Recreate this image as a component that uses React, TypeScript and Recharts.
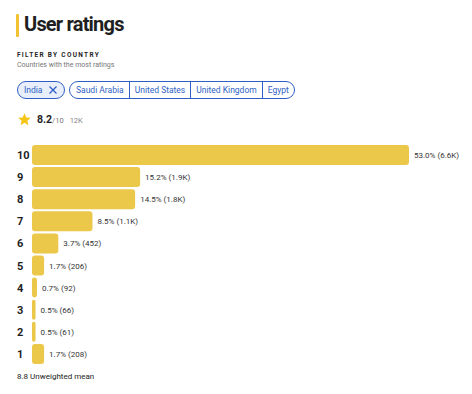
import React from 'react';
import { BarChart, Bar, XAxis, YAxis, LabelList } from 'recharts';

const ratings = ['10', '9', '8', '7', '6', '5', '4', '3', '2', '1'];
const shares = [53.0, 15.2, 14.5, 8.5, 3.7, 1.7, 0.7, 0.5, 0.5, 1.7];
const counts = ['6.6K', '1.9K', '1.8K', '1.1K', '452', '206', '92', '66', '61', '208'];
const countries = ['Saudi Arabia', 'United States', 'United Kingdom', 'Egypt'];

const data = ratings.map((r, i) => ({
  rating: r,
  share: shares[i],
  label: `${shares[i].toFixed(1)}% (${counts[i]})`,
}));

const BLUE = '#2f5fc4';
const FONT = 'Roboto, "Noto Sans", Arial, sans-serif';

const RatingTick = (props: any) => {
  const { y, payload } = props;
  return (
    <text x={17} y={y} dy={4} textAnchor="start" fontSize={11} fontWeight={700} fill="#1f1f1f" fontFamily={FONT}>
      {payload.value}
    </text>
  );
};

const ValueLabel = (props: any) => {
  const { x, y, width, height, value } = props;
  return (
    <text x={x + width + 5} y={y + height / 2} dy={3} fontSize={8} fill="#333" fontFamily={FONT}>
      {value}
    </text>
  );
};

export default function App() {
  return (
    <div style={{ position: 'absolute', left: 0, top: 0, width: 472, height: 394, background: '#fff', fontFamily: FONT, color: '#1f1f1f' }}>
      <div style={{ position: 'absolute', left: 16, top: 14, width: 3, height: 23, background: '#f1c232', borderRadius: 1 }} />
      <div style={{ position: 'absolute', left: 24, top: 12, fontSize: 20, fontWeight: 700, letterSpacing: -0.8 }}>User ratings</div>
      <div style={{ position: 'absolute', left: 17, top: 51, fontSize: 6.5, fontWeight: 700, letterSpacing: 1.3 }}>FILTER BY COUNTRY</div>
      <div style={{ position: 'absolute', left: 17, top: 61, fontSize: 7, color: '#777' }}>Countries with the most ratings</div>

      <div style={{ position: 'absolute', left: 17, top: 81, height: 16, border: `1px solid ${BLUE}`, borderRadius: 9, background: '#e8effb', display: 'flex', alignItems: 'center', padding: '0 6px 0 6px', fontSize: 8.5, color: BLUE }}>
        India
        <svg width={10} height={10} style={{ marginLeft: 5 }} viewBox="0 0 10 10">
          <path d="M1.5 1.5 L8.5 8.5 M8.5 1.5 L1.5 8.5" stroke={BLUE} strokeWidth={1.3} />
        </svg>
      </div>
      <div style={{ position: 'absolute', left: 69, top: 81, height: 16, border: `1px solid ${BLUE}`, borderRadius: 9, display: 'flex', alignItems: 'stretch', overflow: 'hidden', fontSize: 8.5, color: BLUE }}>
        {countries.map((c, i) => (
          <div key={c} style={{ display: 'flex', alignItems: 'center', padding: i === 0 ? '0 5px 0 6px' : '0 5px', borderLeft: i === 0 ? 'none' : `1px solid ${BLUE}` }}>
            {c}
          </div>
        ))}
      </div>

      <svg style={{ position: 'absolute', left: 17, top: 112 }} width={15} height={15} viewBox="0 0 24 24">
        <path d="M12 2 L14.9 8.6 L22 9.3 L16.6 14 L18.2 21 L12 17.3 L5.8 21 L7.4 14 L2 9.3 L9.1 8.6 Z" fill="#f5c518" />
      </svg>
      <div style={{ position: 'absolute', left: 37, top: 113, fontSize: 10.5, whiteSpace: 'nowrap' }}>
        <span style={{ fontWeight: 700 }}>8.2</span>
        <span style={{ fontSize: 7.5, color: '#777' }}>/10</span>
        <span style={{ fontSize: 7.5, color: '#888', marginLeft: 6 }}>12K</span>
      </div>

      <div style={{ position: 'absolute', left: 0, top: 144 }}>
        <BarChart width={472} height={221} data={data} layout="vertical" margin={{ top: 0, right: 63, bottom: 0, left: 0 }} barSize={20}>
          <XAxis type="number" domain={[0, 53]} hide />
          <YAxis type="category" dataKey="rating" width={32} axisLine={false} tickLine={false} tick={<RatingTick />} interval={0} />
          <Bar dataKey="share" fill="#ecc84a" radius={3} isAnimationActive={false}>
            <LabelList dataKey="label" content={<ValueLabel />} />
          </Bar>
        </BarChart>
      </div>

      <div style={{ position: 'absolute', left: 17, top: 372, fontSize: 8, color: '#222' }}>8.8 Unweighted mean</div>
    </div>
  );
}
